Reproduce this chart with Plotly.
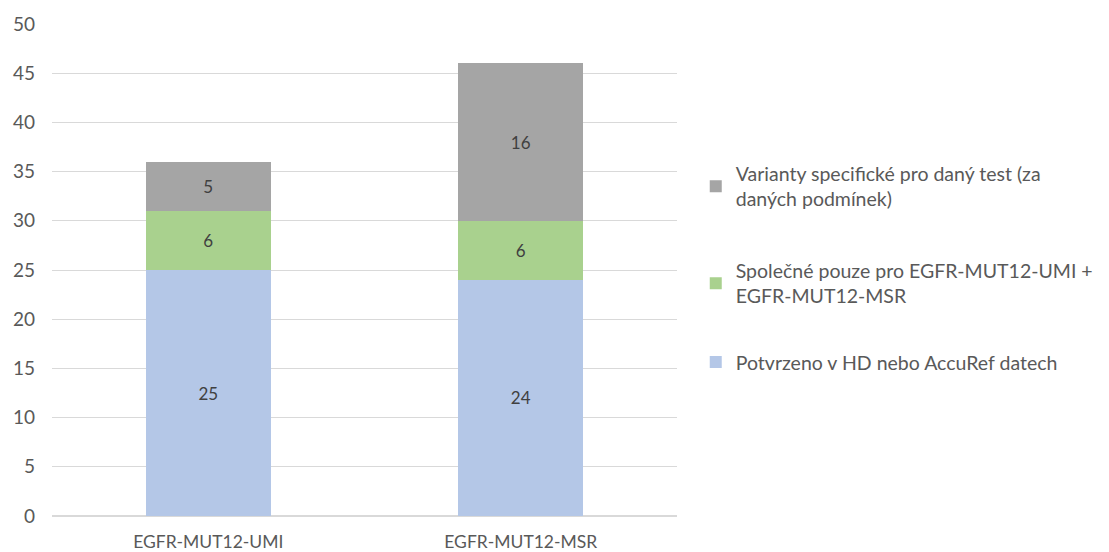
import plotly.graph_objects as go

# data
categories = ["EGFR-MUT12-UMI", "EGFR-MUT12-MSR"]
potvrzeno = [25, 24]
spolecne = [6, 6]
specificke = [5, 16]

series_names = [
    "Potvrzeno v HD nebo AccuRef datech",
    "Společné pouze pro EGFR-MUT12-UMI +<br>EGFR-MUT12-MSR",
    "Varianty specifické pro daný test (za<br>daných podmínek)",
]
series_values = [potvrzeno, spolecne, specificke]
series_colors = ["#B4C7E7", "#A9D18E", "#A5A5A5"]
legend_ids = ["legend3", "legend2", "legend"]

FONT = "Lato, 'Open Sans', sans-serif"
TXT = "#595959"

fig = go.Figure()
for name, vals, col, lg in zip(series_names, series_values, series_colors, legend_ids):
    fig.add_trace(go.Bar(
        x=categories, y=vals, name=name, legend=lg,
        marker=dict(color=col, line=dict(width=0)),
        text=[str(v) for v in vals],
        textposition="inside", insidetextanchor="middle",
        textfont=dict(size=17, color="#404040", family=FONT),
        width=0.4,
    ))

leg_style = dict(x=1.03, xanchor="left", yanchor="top",
                 font=dict(size=19.5, color=TXT, family=FONT),
                 bgcolor="rgba(0,0,0,0)", itemwidth=30)

# page body has an 8px margin, so the figure is 8px smaller than the window
fig.update_layout(
    barmode="stack",
    width=1101, height=544,
    margin=dict(l=44, r=432, t=16, b=36, autoexpand=False),
    paper_bgcolor="white", plot_bgcolor="white",
    font=dict(family=FONT, size=17, color=TXT),
    showlegend=True,
    legend=dict(y=0.735, **leg_style),
    legend2=dict(y=0.538, **leg_style),
    legend3=dict(y=0.352, **leg_style),
    xaxis=dict(showgrid=False, ticks="", automargin=False,
               tickfont=dict(size=17.5, color=TXT), ticklabelstandoff=13),
    yaxis=dict(
        range=[0, 50], dtick=5, showgrid=True, gridcolor="#D9D9D9",
        gridwidth=1, zeroline=True, zerolinecolor="#D9D9D9", ticks="",
        automargin=False,
        tickfont=dict(size=19, color=TXT), ticklabelstandoff=16,
    ),
)

fig.write_html("out.html")
